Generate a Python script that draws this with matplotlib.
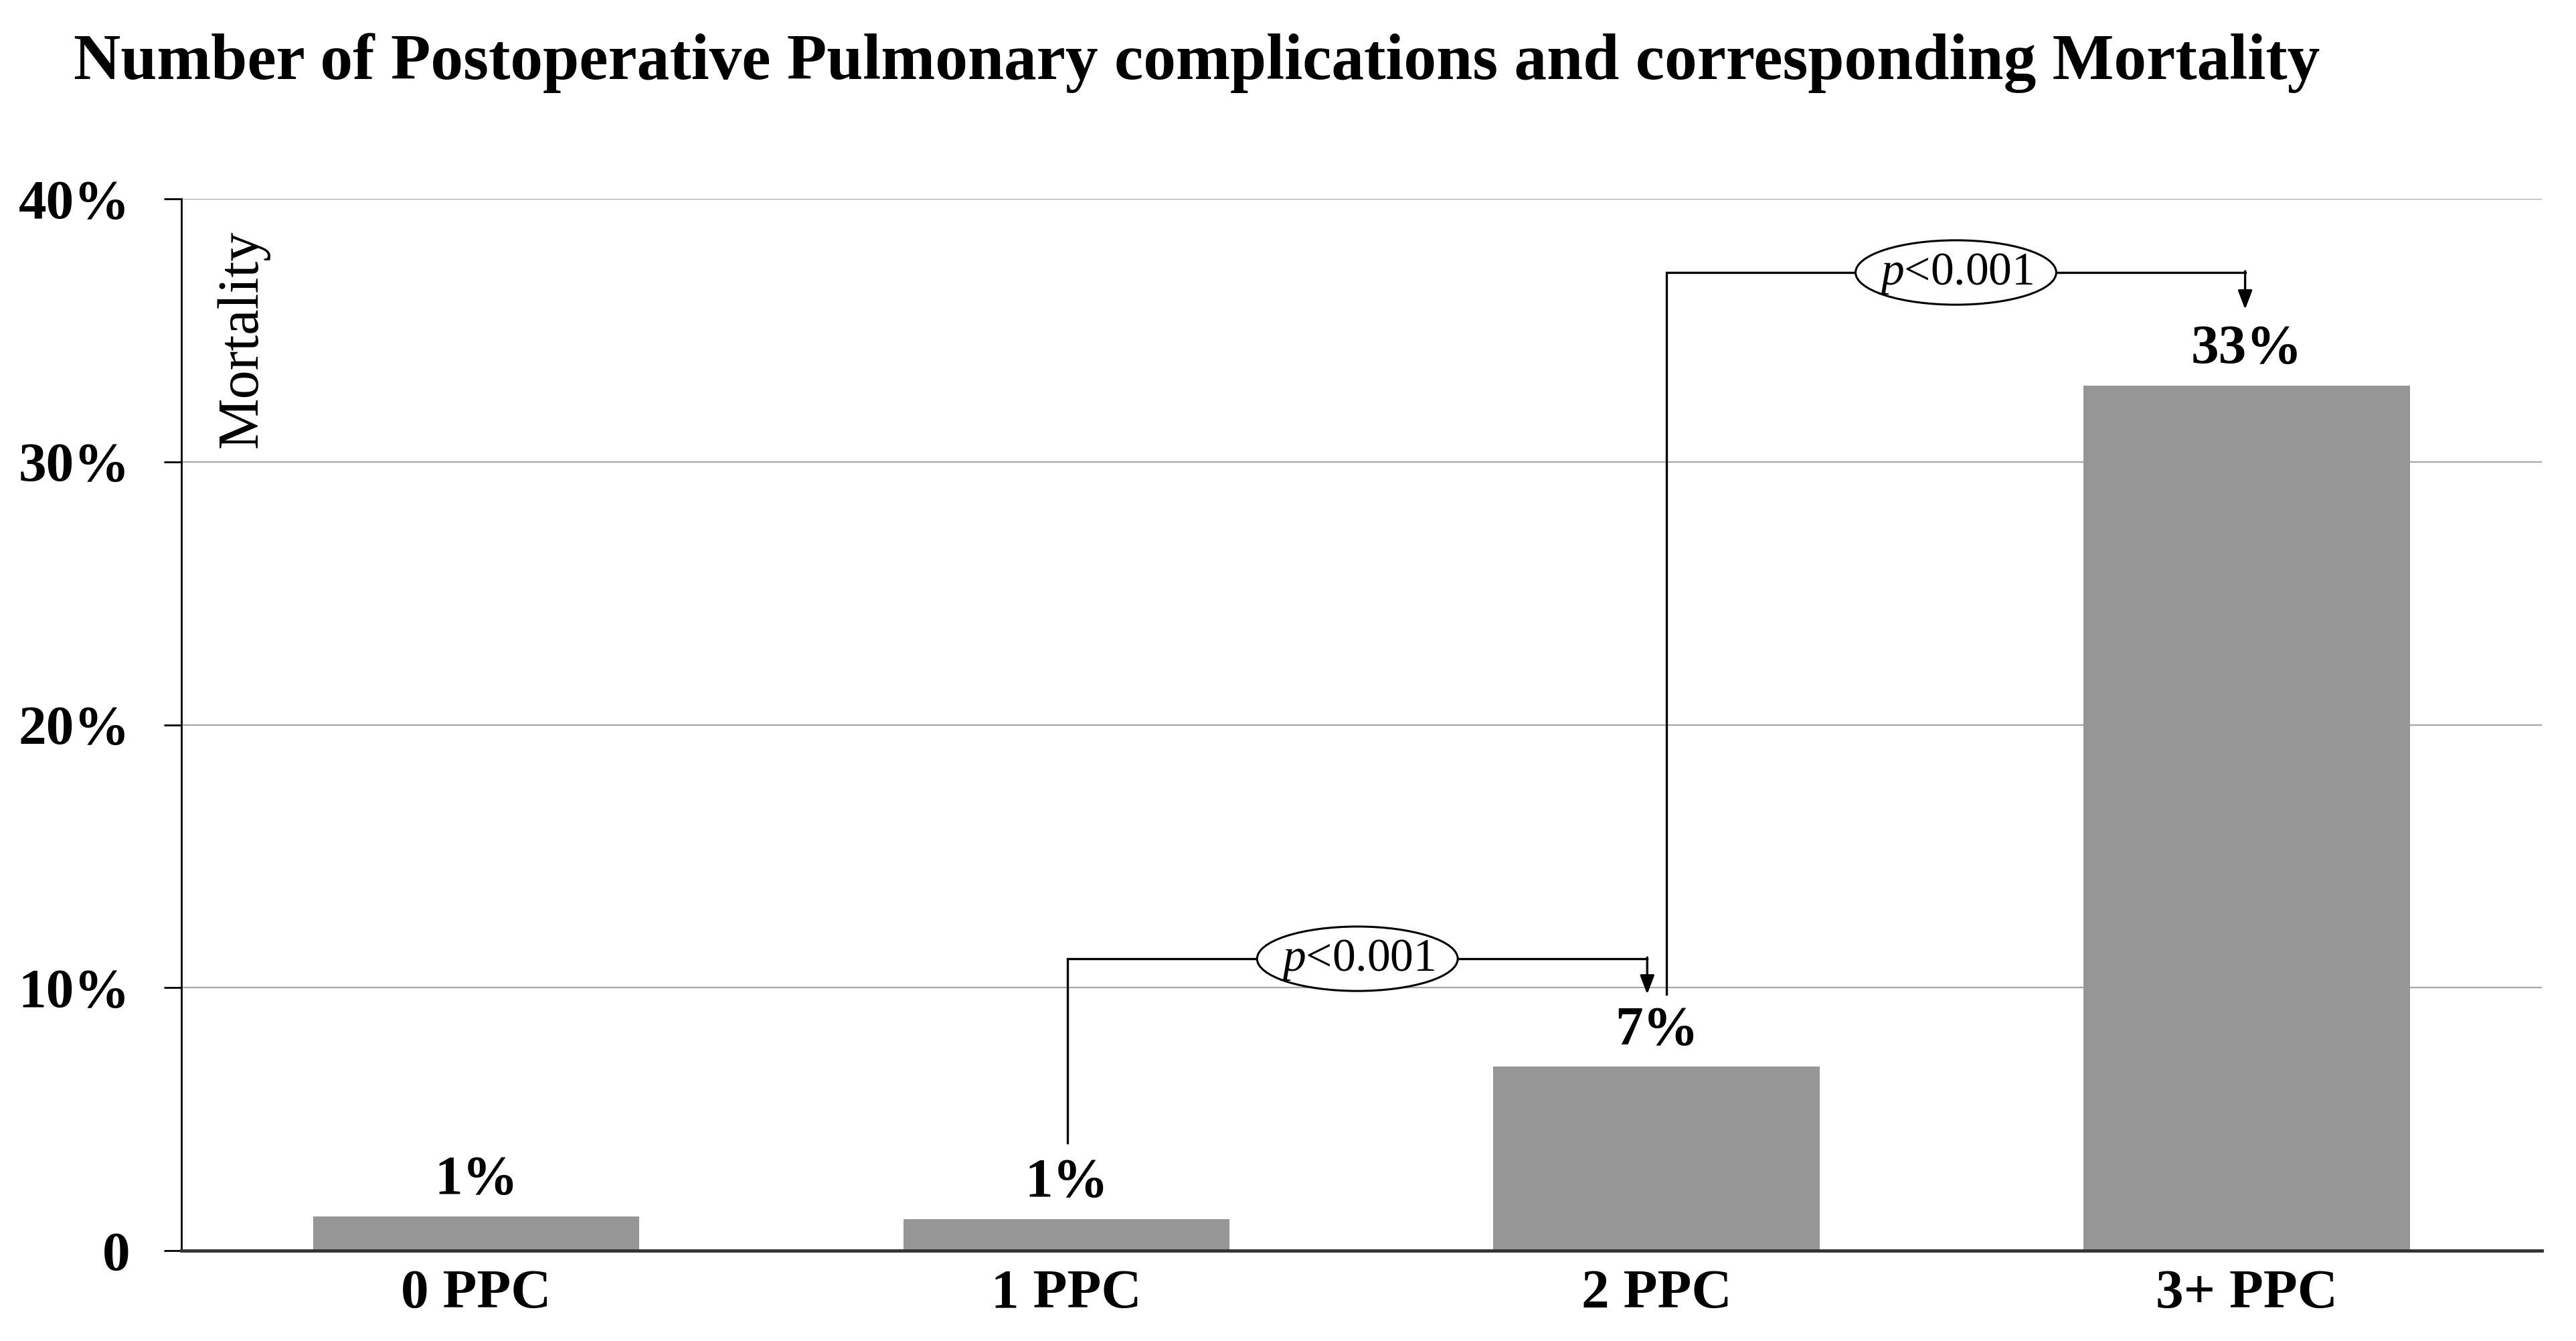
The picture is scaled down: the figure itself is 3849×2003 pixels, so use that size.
import numpy as np
import matplotlib
matplotlib.use('Agg')
from matplotlib import pyplot as plt
from matplotlib.patches import Ellipse

## data ##
categories = ['0 PPC', '1 PPC', '2 PPC', '3+ PPC']
mortality = [1.3, 1.2, 7.0, 32.9]
bar_labels = ['1%', '1%', '7%', '33%']
yticks = [0, 10, 20, 30, 40]
ytick_labels = ['0', '10%', '20%', '30%', '40%']
pvals = ['<0.001', '<0.001']

plt.rcParams['font.family'] = ['Liberation Serif', 'DejaVu Serif']
plt.rcParams['mathtext.fontset'] = 'custom'
plt.rcParams['mathtext.it'] = 'Liberation Serif:italic'
plt.rcParams['mathtext.rm'] = 'Liberation Serif'

fig = plt.figure(figsize=(38.49, 20.03), dpi=100)
ax = fig.add_axes([0.0703, 0.0674, 0.9165, 0.7843])

x = np.arange(len(categories))
ax.bar(x, mortality, width=0.553, color='#969696', zorder=2)
ax.set_xlim(-0.5, 3.5)
ax.set_ylim(0, 40)

ax.set_yticks(yticks)
ax.set_yticklabels(ytick_labels, fontsize=60, fontweight='bold')
ax.set_xticks(x)
ax.set_xticklabels(categories, fontsize=60, fontweight='bold')
ax.tick_params(axis='y', length=19, width=2, pad=36, color='black')
ax.tick_params(axis='x', length=0, pad=20)
ax.yaxis.grid(True, color='#a6a6a6', lw=1.6, zorder=0)
ax.set_axisbelow(True)
for s in ['top', 'right']:
    ax.spines[s].set_visible(False)
ax.spines['left'].set_linewidth(2)
ax.spines['left'].set_color('black')
ax.spines['bottom'].set_linewidth(3.5)
ax.spines['bottom'].set_color('#333333')

# value labels
for i, v in enumerate(mortality):
    ax.text(x[i], v + 1.35, bar_labels[i], ha='center', va='center',
            fontsize=60, fontweight='bold')

# mortality label inside axes
ax.text(0.026, 0.867, 'Mortality', transform=ax.transAxes, rotation=90,
        ha='center', va='center', fontsize=62)

# brackets with p-values
def bracket(x0, y0, x1, ytop, ytip, ptxt):
    ax.plot([x0, x0, x1], [y0, ytop, ytop], color='black', lw=2.4, zorder=3,
            solid_joinstyle='miter')
    ax.annotate('', xy=(x1, ytip), xytext=(x1, ytop + 0.05),
                arrowprops=dict(arrowstyle='-|>,head_length=1.7,head_width=0.65',
                                color='black', lw=2.4, shrinkA=0, shrinkB=0),
                zorder=3)
    xm = (x0 + x1) / 2
    ax.add_patch(Ellipse((xm, ytop), 0.34, 2.45, facecolor='white',
                         edgecolor='black', lw=2.2, zorder=4))
    ax.text(xm, ytop - 0.05, r'$\mathit{p}$' + ptxt, ha='center', va='center',
            fontsize=50, zorder=5)

bracket(x[1] + 0.002, 4.1, x[2] - 0.016, 11.1, 9.75, pvals[0])
bracket(x[2] + 0.017, 9.75, x[3] - 0.003, 37.2, 35.8, pvals[1])

fig.text(0.0286, 0.941, 'Number of Postoperative Pulmonary complications and corresponding Mortality',
         fontsize=70, fontweight='bold', ha='left', va='baseline')

fig.savefig('out.png', dpi=100, facecolor='white')
